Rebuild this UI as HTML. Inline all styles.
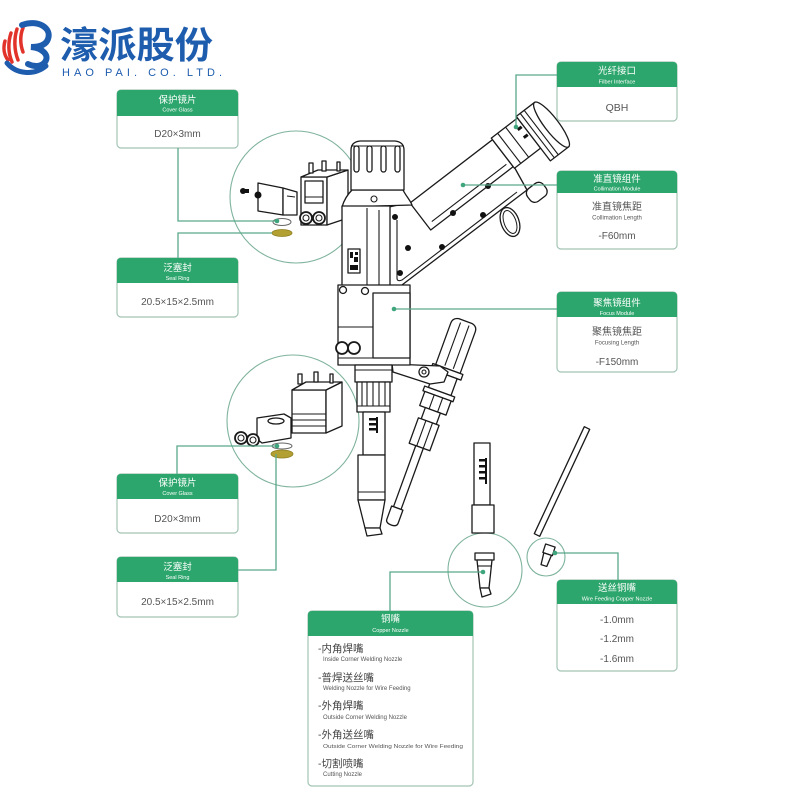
<!DOCTYPE html>
<html><head><meta charset="utf-8">
<style>
html,body{margin:0;padding:0;background:#fff;}
svg{display:block;}
text{font-family:"Liberation Sans","Noto Sans CJK SC",sans-serif;}
.d{fill:#fff;stroke:#1a1a1a;stroke-width:1.3;stroke-linejoin:round;}
.l{fill:none;stroke:#1a1a1a;stroke-width:1.1;}
.k{fill:#111;}
.bx{fill:#fff;stroke:#a3c4b5;stroke-width:1.2;}
.hd{fill:#2ca66c;}
.c{fill:none;stroke:#7fb39d;stroke-width:1.1;}
.cn{fill:none;stroke:#5aa98a;stroke-width:1.3;}
.dot{fill:#3fa57d;}
.zh{fill:#fff;font-size:9.5px;text-anchor:middle;}
.en{fill:#fff;font-size:5.5px;text-anchor:middle;}
.v{fill:#555;font-size:10px;text-anchor:middle;}
.iz{fill:#444;font-size:10.5px;}
.ie{fill:#555;font-size:6px;}
</style></head><body>
<svg width="800" height="800" viewBox="0 0 800 800" xmlns="http://www.w3.org/2000/svg">

<!-- LOGO -->
<g>
  <path d="M5,41 C3,48 4,55 8,60" fill="none" stroke="#e2332b" stroke-width="3.5" stroke-linecap="round"/>
  <path d="M11,33 C8,42 8,53 12,62" fill="none" stroke="#e2332b" stroke-width="3.5" stroke-linecap="round"/>
  <path d="M17,29 C14,38 14,50 18,60" fill="none" stroke="#e2332b" stroke-width="3.5" stroke-linecap="round"/>
  <path d="M23,28 C20,35 20,44 23,52" fill="none" stroke="#e2332b" stroke-width="3.5" stroke-linecap="round"/>
  <path d="M7,63 C16,74 34,76 46,66" fill="none" stroke="#1e5cae" stroke-width="5" stroke-linecap="round"/>
  <path d="M22,25 C38,19 52,28 48,39 C46,45 39,47 31,47 C42,48 50,55 45,62 C41,67 34,67 28,64" fill="none" stroke="#1e5cae" stroke-width="6" stroke-linecap="round"/>
  <text x="60" y="58" font-size="37" font-weight="bold" fill="#1e5cae" textLength="153" lengthAdjust="spacingAndGlyphs">濠派股份</text>
  <text x="62" y="76" font-size="11" fill="#1e5cae" textLength="160" lengthAdjust="spacing">HAO PAI. CO. LTD.</text>
</g>

<!-- CALLOUT CIRCLES -->
<circle class="c" cx="296" cy="197" r="66"/>
<circle class="c" cx="293" cy="421" r="66"/>
<circle class="c" cx="485" cy="570" r="37"/>
<circle class="c" cx="546" cy="557" r="19"/>

<!-- Circle 1 contents -->
<g>
  <rect class="d" x="301" y="177" width="26" height="48"/>
  <polygon class="d" points="327,177 348,170 348,218 327,225"/>
  <polygon class="d" points="301,177 318,170 348,170 327,177"/>
  <rect class="d" x="309" y="163" width="4" height="10"/>
  <rect class="d" x="322" y="161" width="4" height="10"/>
  <rect class="d" x="337" y="162" width="3" height="9"/>
  <rect class="d" x="305" y="181" width="18" height="22"/>
  <line class="l" x1="305" y1="197" x2="323" y2="197"/>
  <circle class="d" cx="306" cy="218" r="6" style="stroke-width:1.8"/>
  <circle class="d" cx="319" cy="218" r="6" style="stroke-width:1.8"/>
  <circle class="l" cx="306" cy="218" r="3"/>
  <circle class="l" cx="319" cy="218" r="3"/>
  <polygon class="d" points="258,183 283,188 283,215 258,211"/>
  <polygon class="d" points="283,188 297,192 297,215 283,215"/>
  <line class="l" x1="287" y1="196" x2="295" y2="197"/>
  <circle class="k" cx="243" cy="191" r="3"/>
  <rect class="k" x="245" y="189" width="4" height="4"/>
  <circle class="k" cx="258" cy="195" r="3.5"/>
  <ellipse cx="282" cy="222" rx="9" ry="3.5" fill="#fff" stroke="#666" stroke-width="1"/>
  <ellipse cx="282" cy="233" rx="10" ry="3.5" fill="#b3a033" stroke="#8f8020" stroke-width="0.8"/>
</g>

<!-- Circle 2 contents -->
<g>
  <rect class="d" x="292" y="390" width="34" height="43"/>
  <polygon class="d" points="326,390 342,382 342,426 326,433"/>
  <polygon class="d" points="292,390 306,382 342,382 326,390"/>
  <rect class="d" x="298" y="374" width="4" height="10"/>
  <rect class="d" x="314" y="372" width="4" height="10"/>
  <rect class="d" x="330" y="374" width="3" height="9"/>
  <line class="l" x1="292" y1="414" x2="326" y2="414"/>
  <line class="l" x1="292" y1="420" x2="326" y2="420"/>
  <line class="l" x1="292" y1="426" x2="326" y2="426"/>
  <polygon class="d" points="257,418 284,414 291,418 291,438 262,443 257,439"/>
  <ellipse class="d" cx="276" cy="421" rx="8" ry="3"/>
  <circle class="d" cx="241" cy="438" r="6" style="stroke-width:1.8"/>
  <circle class="d" cx="253" cy="440" r="6" style="stroke-width:1.8"/>
  <circle class="l" cx="241" cy="438" r="3"/>
  <circle class="l" cx="253" cy="440" r="3"/>
  <ellipse cx="282" cy="446" rx="10" ry="3" fill="#fff" stroke="#666" stroke-width="1"/>
  <ellipse cx="282" cy="454" rx="11" ry="4" fill="#b3a033" stroke="#8f8020" stroke-width="0.8"/>
</g>

<!-- Circle 3 contents -->
<g>
  <rect class="d" x="475" y="553" width="19" height="7"/>
  <path class="d" d="M477,560 H492 L489,588 H480 Z"/>
  <line class="l" x1="477.5" y1="566" x2="491.5" y2="566"/>
  <path class="d" d="M480,588 L489,588 L491,594 L482,597 Z"/>
</g>
<!-- Circle 4 contents -->
<g transform="rotate(18 547 556)">
  <rect class="d" x="542" y="545" width="10" height="9"/>
  <path class="d" d="M543,554 H551 L550,566 H544 Z"/>
</g>

<!-- Separate parts on right -->
<rect class="d" x="474" y="443" width="16" height="62"/>
<rect class="d" x="472" y="505" width="22" height="28"/>
<line x1="486" y1="458" x2="486" y2="484" stroke="#111" stroke-width="2"/>
<rect class="k" x="479" y="459" width="7" height="2.5"/>
<rect class="k" x="479" y="465" width="7" height="2.5"/>
<rect class="k" x="479" y="471" width="7" height="2.5"/>
<rect class="k" x="479" y="477" width="7" height="2.5"/>
<polygon class="d" points="584.3,426.7 589.7,429.3 539.7,536.3 534.3,533.7"/>

<!-- WIRE FEEDER -->
<g transform="translate(465,322) rotate(20)">
  <path class="d" d="M-13,50 V6 Q-13,0 -7,-1 H7 Q13,0 13,6 V50 Z"/>
  <line class="l" x1="-4" y1="2" x2="-4" y2="48"/>
  <line class="l" x1="5" y1="2" x2="5" y2="48"/>
  <rect class="d" x="-16" y="50" width="32" height="6"/>
  <rect class="d" x="-12" y="56" width="24" height="18"/>
  <rect class="d" x="-16" y="74" width="32" height="5"/>
  <rect class="d" x="-14" y="79" width="28" height="15"/>
  <line class="l" x1="-4" y1="79" x2="-4" y2="94"/>
  <line class="l" x1="5" y1="79" x2="5" y2="94"/>
  <rect class="d" x="-8" y="94" width="16" height="12"/>
  <rect class="d" x="-11" y="106" width="22" height="27"/>
  <line class="l" x1="-3" y1="106" x2="-3" y2="133"/>
  <line class="l" x1="4" y1="106" x2="4" y2="133"/>
  <rect class="d" x="-4" y="133" width="8" height="65"/>
  <path class="d" d="M-6,198 H6 V212 Q6,216 0,216 Q-6,216 -6,212 Z"/>
</g>
<polygon class="d" points="392,364 440,366 448,372 444,382 430,384 393,372"/>
<circle class="d" cx="424" cy="372" r="5"/>
<circle class="l" cx="424" cy="372" r="2"/>

<!-- ARM: plate -->
<path class="d" d="M389,207 V282 Q389,290 398,288 L527,190 L512,163 L412,202 Z"/>
<path class="l" d="M397,220 V278 Q397,282 402,280 L517,192"/>
<!-- ARM tube/collar/cap -->
<g transform="translate(410,203) rotate(-37.5)">
  <rect class="d" x="0" y="0" width="104" height="34"/>
  <line class="l" x1="6" y1="28" x2="100" y2="28"/>
  <rect class="d" x="104" y="-2" width="33" height="38"/>
  <line class="l" x1="112" y1="-2" x2="112" y2="36"/>
  <line class="l" x1="122" y1="-2" x2="122" y2="36"/>
  <rect class="d" x="137" y="-4" width="23" height="56"/>
  <line class="l" x1="142" y1="-4" x2="142" y2="52"/>
  <line class="l" x1="147" y1="-4" x2="147" y2="52"/>
  <ellipse class="d" cx="160" cy="24" rx="7" ry="28"/>
  <rect class="k" x="130" y="6" width="5" height="3"/>
  <rect class="k" x="130" y="16" width="5" height="3"/>
</g>
<!-- handle loop & knob -->
<ellipse cx="510" cy="222" rx="9" ry="15" transform="rotate(-20 510 222)" fill="none" stroke="#1a1a1a" stroke-width="1.3"/>
<ellipse cx="510" cy="222" rx="6" ry="12" transform="rotate(-20 510 222)" fill="none" stroke="#1a1a1a" stroke-width="1"/>
<g transform="translate(532,196) rotate(-37.5)">
  <rect class="d" x="-4" y="-8" width="20" height="16" rx="6"/>
</g>
<!-- bolts -->
<circle class="k" cx="395" cy="217" r="3"/>
<circle class="k" cx="408" cy="248" r="3"/>
<circle class="k" cx="400" cy="273" r="3"/>
<circle class="k" cx="442" cy="247" r="3"/>
<circle class="k" cx="453" cy="213" r="3"/>
<circle class="k" cx="483" cy="215" r="3"/>
<circle class="k" cx="488" cy="186" r="3"/>

<!-- BODY -->
<path class="d" d="M352,190 H403 C406,196 410,200 412,205 L342,207 C344,200 348,194 352,190 Z"/>
<circle class="l" cx="374" cy="199" r="3"/>
<path class="d" d="M351,190 V150 Q351,142 360,141 H395 Q404,142 404,150 V190 Z"/>
<line class="l" x1="351" y1="146" x2="404" y2="146"/>
<rect class="d" x="354" y="146" width="5" height="26" rx="2.5"/>
<rect class="d" x="367" y="146" width="5" height="26" rx="2.5"/>
<rect class="d" x="381" y="146" width="5" height="26" rx="2.5"/>
<rect class="d" x="395" y="146" width="5" height="26" rx="2.5"/>
<rect class="d" x="342" y="206" width="48" height="80"/>
<line class="l" x1="367" y1="208" x2="367" y2="286"/>
<line class="l" x1="379" y1="210" x2="379" y2="286"/>
<rect class="d" x="348" y="249" width="12" height="24"/>
<rect class="k" x="350" y="252" width="3" height="6"/>
<rect class="k" x="355" y="252" width="3" height="3"/>
<rect class="k" x="354" y="257" width="4" height="5"/>
<rect class="k" x="350" y="265" width="8" height="5"/>
<!-- lower module -->
<rect class="d" x="338" y="285" width="72" height="80"/>
<rect class="d" x="373" y="293" width="37" height="65"/>
<line class="l" x1="338" y1="327" x2="373" y2="327"/>
<line class="l" x1="338" y1="358" x2="410" y2="358"/>
<circle class="d" cx="343" cy="290" r="3.5"/>
<circle class="d" cx="365" cy="291" r="3.5"/>
<circle class="d" cx="342" cy="348" r="6" style="stroke-width:1.8"/>
<circle class="d" cx="354" cy="348" r="6" style="stroke-width:1.8"/>
<!-- below module -->
<rect class="d" x="355" y="365" width="37" height="17"/>
<line class="l" x1="355" y1="370" x2="392" y2="370"/>
<rect class="d" x="357" y="382" width="33" height="30"/>
<line class="l" x1="362" y1="382" x2="362" y2="406"/>
<line class="l" x1="367" y1="382" x2="367" y2="406"/>
<line class="l" x1="373" y1="382" x2="373" y2="406"/>
<line class="l" x1="379" y1="382" x2="379" y2="406"/>
<line class="l" x1="385" y1="382" x2="385" y2="406"/>
<line class="l" x1="357" y1="406" x2="390" y2="406"/>
<rect class="d" x="363" y="412" width="22" height="43"/>
<line x1="377" y1="417" x2="377" y2="433" stroke="#111" stroke-width="2"/>
<rect class="k" x="369" y="418" width="8" height="2.5"/>
<rect class="k" x="369" y="423" width="8" height="2.5"/>
<rect class="k" x="369" y="428" width="8" height="2.5"/>
<rect class="d" x="358" y="455" width="27" height="45"/>
<line class="l" x1="358" y1="492" x2="385" y2="492"/>
<path class="d" d="M358,500 H385 L380,528 H365 Z"/>
<path class="d" d="M365,528 H380 L382,534 L367,536 Z"/>

<!-- LABEL BOXES -->
<!-- QBH -->
<rect class="bx" x="557" y="62" width="120" height="59" rx="4"/>
<path class="hd" d="M557,87 V66 Q557,62 561,62 H673 Q677,62 677,66 V87 Z"/>
<text class="zh" x="617" y="74">光纤接口</text>
<text class="en" x="617" y="83.5">Filber Interface</text>
<text class="v" x="617" y="111" style="font-size:10.5px">QBH</text>

<!-- Cover glass top -->
<rect class="bx" x="117" y="90" width="121" height="58" rx="4"/>
<path class="hd" d="M117,116 V94 Q117,90 121,90 H234 Q238,90 238,94 V116 Z"/>
<text class="zh" x="177.5" y="103">保护镜片</text>
<text class="en" x="177.5" y="111.5">Cover Glass</text>
<text class="v" x="177.5" y="137">D20×3mm</text>

<!-- Seal ring top -->
<rect class="bx" x="117" y="258" width="121" height="59" rx="4"/>
<path class="hd" d="M117,283 V262 Q117,258 121,258 H234 Q238,258 238,262 V283 Z"/>
<text class="zh" x="177.5" y="271">泛塞封</text>
<text class="en" x="177.5" y="280">Seal Ring</text>
<text class="v" x="177.5" y="305">20.5×15×2.5mm</text>

<!-- Collimation -->
<rect class="bx" x="557" y="171" width="120" height="78" rx="4"/>
<path class="hd" d="M557,193 V175 Q557,171 561,171 H673 Q677,171 677,175 V193 Z"/>
<text class="zh" x="617" y="182">准直镜组件</text>
<text class="en" x="617" y="190.5">Collimation Module</text>
<text class="v" x="617" y="210">准直镜焦距</text>
<text class="v" x="617" y="219.5" style="font-size:6px">Collimation Length</text>
<text class="v" x="617" y="239">-F60mm</text>

<!-- Focus -->
<rect class="bx" x="557" y="292" width="120" height="80" rx="4"/>
<path class="hd" d="M557,317 V296 Q557,292 561,292 H673 Q677,292 677,296 V317 Z"/>
<text class="zh" x="617" y="306">聚焦镜组件</text>
<text class="en" x="617" y="315">Focus Module</text>
<text class="v" x="617" y="335">聚焦镜焦距</text>
<text class="v" x="617" y="344.5" style="font-size:6px">Focusing Length</text>
<text class="v" x="617" y="365">-F150mm</text>

<!-- Cover glass bottom -->
<rect class="bx" x="117" y="474" width="121" height="59" rx="4"/>
<path class="hd" d="M117,499 V478 Q117,474 121,474 H234 Q238,474 238,478 V499 Z"/>
<text class="zh" x="177.5" y="486">保护镜片</text>
<text class="en" x="177.5" y="495">Cover Glass</text>
<text class="v" x="177.5" y="522">D20×3mm</text>

<!-- Seal ring bottom -->
<rect class="bx" x="117" y="557" width="121" height="60" rx="4"/>
<path class="hd" d="M117,582 V561 Q117,557 121,557 H234 Q238,557 238,561 V582 Z"/>
<text class="zh" x="177.5" y="570">泛塞封</text>
<text class="en" x="177.5" y="579">Seal Ring</text>
<text class="v" x="177.5" y="605">20.5×15×2.5mm</text>

<!-- Copper nozzle -->
<rect class="bx" x="308" y="611" width="165" height="175" rx="4"/>
<path class="hd" d="M308,636 V615 Q308,611 312,611 H469 Q473,611 473,615 V636 Z"/>
<text class="zh" x="390.5" y="622">铜嘴</text>
<text class="en" x="390.5" y="632">Copper Nozzle</text>
<text class="iz" x="318" y="652">-内角焊嘴</text>
<text class="ie" x="323" y="661">Inside Corner Welding Nozzle</text>
<text class="iz" x="318" y="681">-普焊送丝嘴</text>
<text class="ie" x="323" y="690">Welding Nozzle for Wire Feeding</text>
<text class="iz" x="318" y="709">-外角焊嘴</text>
<text class="ie" x="323" y="719">Outside Corner Welding Nozzle</text>
<text class="iz" x="318" y="738">-外角送丝嘴</text>
<text class="ie" x="323" y="748" style="font-size:5px" textLength="140" lengthAdjust="spacingAndGlyphs">Outside Corner Welding Nozzle for Wire Feeding</text>
<text class="iz" x="318" y="767">-切割喷嘴</text>
<text class="ie" x="323" y="776">Cutting Nozzle</text>

<!-- Wire feeding -->
<rect class="bx" x="557" y="580" width="120" height="91" rx="4"/>
<path class="hd" d="M557,604 V584 Q557,580 561,580 H673 Q677,580 677,584 V604 Z"/>
<text class="zh" x="617" y="591">送丝铜嘴</text>
<text class="en" x="617" y="600.5">Wire Feeding Copper Nozzle</text>
<text class="v" x="617" y="623">-1.0mm</text>
<text class="v" x="617" y="642">-1.2mm</text>
<text class="v" x="617" y="662">-1.6mm</text>

<!-- CONNECTORS -->
<path class="cn" d="M557,75 H516 V127"/>
<circle class="dot" cx="516" cy="127" r="2.3"/>
<path class="cn" d="M178,148 V221 H277"/>
<circle class="dot" cx="277" cy="221" r="2.3"/>
<path class="cn" d="M178,258 V233 H272"/>
<path class="cn" d="M463,185 H557"/>
<circle class="dot" cx="463" cy="185" r="2.3"/>
<path class="cn" d="M394,309 H557"/>
<circle class="dot" cx="394" cy="309" r="2.3"/>
<path class="cn" d="M177,474 V446 H277"/>
<circle class="dot" cx="277" cy="446" r="2.3"/>
<path class="cn" d="M238,570 H276 V454"/>
<path class="cn" d="M390,611 V572 H483"/>
<circle class="dot" cx="483" cy="572" r="2.3"/>
<path class="cn" d="M555,553 H618 V580"/>
<circle class="dot" cx="555" cy="553" r="2.3"/>
</svg>
</body></html>
